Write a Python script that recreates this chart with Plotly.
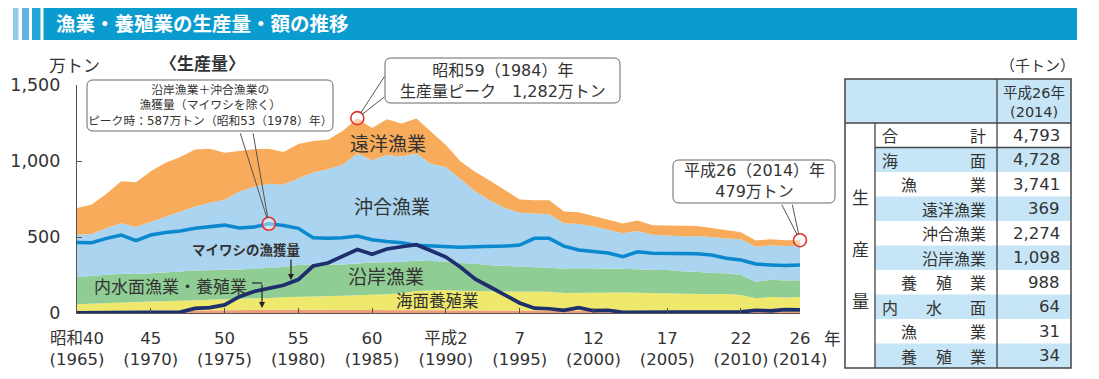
import plotly.graph_objects as go

# ---------------- data (万トン) ----------------
years = list(range(1965, 2015))
inland = [12, 13, 14, 15, 16, 17, 18, 18, 19, 19, 19, 20, 20, 21, 21, 21, 21, 21, 21, 20,
          20, 20, 20, 20, 20, 21, 20, 19, 18, 17, 17, 16, 15, 14, 13, 12, 11, 11, 10, 10,
          9, 9, 9, 8, 8, 8, 7, 7, 6, 6]
aquaculture = [45, 48, 52, 56, 56, 58, 60, 63, 66, 66, 67, 71, 74, 78, 82, 86, 88, 90, 93, 96,
               98, 104, 110, 124, 128, 130, 126, 126, 124, 125, 124, 122, 124, 117, 120, 122, 123, 124, 123, 121,
               123, 117, 117, 115, 117, 110, 90, 99, 96, 99]
coastal = [180, 182, 185, 188, 185, 186, 190, 192, 195, 196, 197, 195, 197, 196, 200, 209, 212, 208, 205, 209,
           215, 210, 205, 202, 195, 187, 183, 179, 172, 168, 165, 164, 163, 162, 161, 160, 158, 156, 155, 152,
           151, 148, 145, 140, 136, 132, 109, 112, 112, 110]
offshore = [278, 277, 309, 331, 308, 339, 367, 392, 420, 444, 462, 514, 539, 555, 542, 569, 604, 626, 656, 725,
            672, 706, 695, 704, 637, 622, 551, 476, 426, 380, 354, 353, 348, 297, 291, 276, 258, 234, 252, 232,
            227, 231, 234, 237, 229, 235, 230, 227, 226, 227]
distant = [176, 193, 225, 277, 296, 332, 354, 362, 376, 356, 310, 266, 247, 230, 214, 227, 207, 194, 222, 232,
           212, 234, 216, 229, 211, 145, 117, 127, 130, 120, 87, 87, 91, 78, 78, 68, 63, 63, 68, 63,
           66, 69, 67, 59, 53, 46, 41, 41, 39, 37]
coastal_offshore_ex_sardine = [463, 462, 491, 513, 476, 513, 530, 540, 557, 565, 578, 560, 565, 587, 575, 557, 495, 491, 495, 506,
                               482, 470, 462, 445, 440, 436, 433, 436, 436, 440, 447, 491, 491, 440, 415, 404, 395, 371, 403, 393,
                               393, 393, 390, 382, 360, 349, 322, 316, 312, 316]
sardine = [1, 1, 1, 1, 1, 2, 6, 6, 30, 35, 53, 107, 142, 164, 182, 220, 309, 329, 374, 418,
           387, 421, 436, 449, 410, 368, 301, 222, 171, 119, 66, 32, 28, 17, 35, 15, 18, 5, 5, 5,
           3, 5, 8, 4, 6, 7, 18, 14, 22, 20]

highlight_years = [1978, 1984, 2014]
highlight_values = [587, 1282, 479]

tick_years = [1965, 1970, 1975, 1980, 1985, 1990, 1995, 2000, 2005, 2010, 2014]
tick_era = ["昭和40", "45", "50", "55", "60", "平成2", "7", "12", "17", "22", "26"]
tick_ad = ["(1965)", "(1970)", "(1975)", "(1980)", "(1985)", "(1990)",
           "(1995)", "(2000)", "(2005)", "(2010)", "(2014)"]
y_ticks = [0, 500, 1000, 1500]

table_labels = ["合計", "海面", "漁業", "遠洋漁業", "沖合漁業", "沿岸漁業", "養殖業", "内水面", "漁業", "養殖業"]
table_levels = [0, 0, 1, 2, 2, 2, 1, 0, 1, 1]
table_values = ["4,793", "4,728", "3,741", "369", "2,274", "1,098", "988", "64", "31", "34"]
table_header = ["平成26年", "(2014)"]
table_side = "生産量"

# ---------------- geometry helpers ----------------
# the page body adds an 8px margin, so the figure is drawn 8px smaller and
# all positions below are given in page pixels and converted.
OFF = 8
W, H = 1099 - OFF, 379 - OFF
PL, PR, PT, PB = 77, 800, 85, 313          # plot area in page pixels
FONT = "Noto Sans CJK JP"
NUMFONT = "DejaVu Sans, Noto Sans CJK JP"
TXT = "#333333"


def px(x):
    return (x - PL) / (PR - PL)


def py(y):
    return (PB - y) / (PB - PT)


def P(x, y):
    return f"{px(x):.5f},{py(y):.5f}"


def rrect(x0, y0, x1, y1, r=6):
    return (f"M {P(x0 + r, y0)} L {P(x1 - r, y0)} Q {P(x1, y0)} {P(x1, y0 + r)} "
            f"L {P(x1, y1 - r)} Q {P(x1, y1)} {P(x1 - r, y1)} L {P(x0 + r, y1)} "
            f"Q {P(x0, y1)} {P(x0, y1 - r)} L {P(x0, y0 + r)} Q {P(x0, y0)} {P(x0 + r, y0)} Z")


shapes = []
annotations = []


def rect(x0, y0, x1, y1, fill, line=None, lw=0):
    shapes.append(dict(type="rect", xref="paper", yref="paper",
                       x0=px(x0), x1=px(x1), y0=py(y1), y1=py(y0),
                       fillcolor=fill, line=dict(width=lw, color=line or fill), layer="above"))


def hline(x0, x1, y, color="#444", w=1.3):
    shapes.append(dict(type="line", xref="paper", yref="paper", x0=px(x0), x1=px(x1),
                       y0=py(y), y1=py(y), line=dict(color=color, width=w), layer="above"))


def vline(x, y0, y1, color="#444", w=1.3):
    shapes.append(dict(type="line", xref="paper", yref="paper", x0=px(x), x1=px(x),
                       y0=py(y0), y1=py(y1), line=dict(color=color, width=w), layer="above"))


def text(x, y, s, size=16, anchor="center", color=TXT, bold=False, va="middle", family=FONT):
    annotations.append(dict(xref="paper", yref="paper", x=px(x), y=py(y), text=s,
                            showarrow=False, xanchor=anchor, yanchor=va, borderpad=0,
                            font=dict(size=size, color=color, family=family,
                                      weight="bold" if bold else "normal"),
                            align="center"))


def arrow(x, y, dy):
    annotations.append(dict(xref="paper", yref="paper", x=px(x), y=py(y), ax=0, ay=-dy,
                            text="", showarrow=True, arrowhead=2, arrowsize=1,
                            arrowwidth=1.2, arrowcolor="#222"))


# ---------------- traces ----------------
fig = go.Figure()
layers = [("内水面", inland, "#F19C7C"), ("海面養殖業", aquaculture, "#EEE96C"),
          ("沿岸漁業", coastal, "#8FCD95"), ("沖合漁業", offshore, "#AAD4EF"),
          ("遠洋漁業", distant, "#F8AB5A")]
for name, vals, col in layers:
    fig.add_trace(go.Scatter(x=years, y=vals, name=name, stackgroup="prod", mode="lines",
                             line=dict(width=0, color=col), fillcolor=col, hoverinfo="x+y"))

fig.add_trace(go.Scatter(x=years, y=coastal_offshore_ex_sardine, mode="lines",
                         line=dict(color="#0B89CF", width=3.5), cliponaxis=False,
                         name="沿岸漁業＋沖合漁業（マイワシを除く）"))
fig.add_trace(go.Scatter(x=years, y=sardine, mode="lines",
                         line=dict(color="#1E2F6E", width=3.7), cliponaxis=False,
                         name="マイワシの漁獲量"))
fig.add_trace(go.Scatter(x=highlight_years, y=highlight_values, mode="markers", cliponaxis=False,
                         marker=dict(size=13, color="rgba(255,255,255,0.45)",
                                     line=dict(color="#E5322D", width=1.6)), name="peak"))

# ---------------- title bar ----------------
rect(13, 5, 18.5, 40, "#93CAE8")
rect(22, 5, 29, 40, "#5FB3DE")
rect(32, 5, 40.5, 40, "#22A6D8")
rect(43.5, 5, 1077, 40, "#0A9BCF")
text(55, 22.5, "漁業・養殖業の生産量・額の推移", size=19.5, anchor="left", color="white", bold=True)

# axis captions
text(74, 65, "万トン", size=17)
text(202, 62, "〈生産量〉", size=17, bold=True)
text(832, 338, "年", size=16.5)

# ---------------- callouts ----------------
shapes.append(dict(type="path", xref="paper", yref="paper", path=rrect(87, 80, 333, 131, 6),
                   fillcolor="white", line=dict(color="#666", width=1), layer="above"))
text(210, 106, "沿岸漁業＋沖合漁業の<br>漁獲量（マイワシを除く）<br>ピーク時：587万トン（昭和53（1978）年）",
     size=11.8, family=NUMFONT)
shapes.append(dict(type="path", xref="paper", yref="paper", path=rrect(385, 58, 620, 103, 6),
                   fillcolor="white", line=dict(color="#666", width=1), layer="above"))
text(503, 81, "昭和59（1984）年<br>生産量ピーク　1,282万トン", size=16, family=NUMFONT)
shapes.append(dict(type="path", xref="paper", yref="paper", path=rrect(673, 160, 835, 203, 6),
                   fillcolor="white", line=dict(color="#666", width=1), layer="above"))
text(754, 181, "平成26（2014）年<br>479万トン", size=16, family=NUMFONT)

# wedge pointers (two converging lines from box to the highlighted point)
pointer_offsets = [[(-29, -92), (-16, -92)], [(28, -43), (28, -22)], [(-19, -37), (-8, -37)]]
for xv, yv, offs in zip(highlight_years, highlight_values, pointer_offsets):
    for ax, ay in offs:
        annotations.append(dict(x=xv, y=yv, xref="x", yref="y", text="", showarrow=True,
                                ax=ax, ay=ay, arrowhead=0, arrowwidth=1, arrowcolor="#555",
                                standoff=6))

# ---------------- series labels ----------------
text(388, 142, "遠洋漁業", size=19)
text(392, 205, "沖合漁業", size=19)
text(386, 275, "沿岸漁業", size=19)
text(437, 300, "海面養殖業", size=16.5)
text(170, 285, "内水面漁業・養殖業", size=17)
text(246, 249, "マイワシの漁獲量", size=13.5, bold=True)

arrow(291, 280, 22)
hline(252, 262, 283, color="#222", w=1.2)
arrow(262, 308, 25)

# ---------------- table ----------------
TL, TC1, TC2, TR = 845, 875, 997, 1071
TT, THB, TB = 79, 123, 368
row_h = (TB - THB) / len(table_labels)
BLUE = "#C6E6F7"
text(1037, 65, "（千トン）", size=15)
rect(TL, TT, TR, THB, BLUE)
for i, (lab, lev, val) in enumerate(zip(table_labels, table_levels, table_values)):
    y0 = THB + i * row_h
    y1 = y0 + row_h
    fill = BLUE if i % 2 == 1 else "white"
    rect(TC1, y0, TR, y1, fill)
    yc = (y0 + y1) / 2
    text(1061, yc, val, size=16.5, anchor="right", family=NUMFONT)
    right = 985
    if lev == 2:
        text(right + 2, yc, lab, size=16, anchor="right")
    else:
        left = 890 if lev == 0 else 909
        n = len(lab)
        for k, ch in enumerate(lab):
            xc = left + (right - 7 - left) * k / (n - 1)
            text(xc, yc, ch, size=16)
for k, ch in enumerate(table_side):
    text(860, 196 + 52 * k, ch, size=17)
text(1034, 93, table_header[0], size=14.5, family=NUMFONT)
text(1034, 112, table_header[1], size=14.5, family=NUMFONT)
# borders
shapes.append(dict(type="rect", xref="paper", yref="paper", x0=px(TL), x1=px(TR), y0=py(TB), y1=py(TT),
                   line=dict(color="#444", width=1.5), fillcolor="rgba(0,0,0,0)", layer="above"))
hline(TL, TR, THB)
hline(TC1, TR, THB + row_h)
vline(TC1, THB, TB)
vline(TC2, TT, TB)

# ---------------- layout ----------------
fig.update_layout(
    width=W, height=H,
    margin=dict(l=PL - OFF, r=W - (PR - OFF), t=PT - OFF, b=H - (PB - OFF), pad=0, autoexpand=False),
    paper_bgcolor="white", plot_bgcolor="white",
    showlegend=False,
    font=dict(family=FONT, color=TXT),
    xaxis=dict(range=[1965, 2014], tickvals=tick_years,
               ticktext=[f"{e}<br>{a}" for e, a in zip(tick_era, tick_ad)], tickangle=0,
               tickfont=dict(size=16.5, color=TXT, family=NUMFONT), ticks="inside", ticklen=5,
               tickcolor="#555", showline=True, linecolor="#555", linewidth=1.2, showgrid=False,
               zeroline=False, ticklabelstandoff=10, automargin=False),
    yaxis=dict(range=[0, 1500], tickvals=y_ticks, tickformat=",",
               tickfont=dict(size=17.5, color=TXT, family=NUMFONT),
               ticks="inside", ticklen=5, tickcolor="#555", showline=True, linecolor="#555",
               linewidth=1.2, showgrid=False, zeroline=False, ticklabelstandoff=12, automargin=False),
    shapes=shapes, annotations=annotations,
)

fig.write_html("out.html")
